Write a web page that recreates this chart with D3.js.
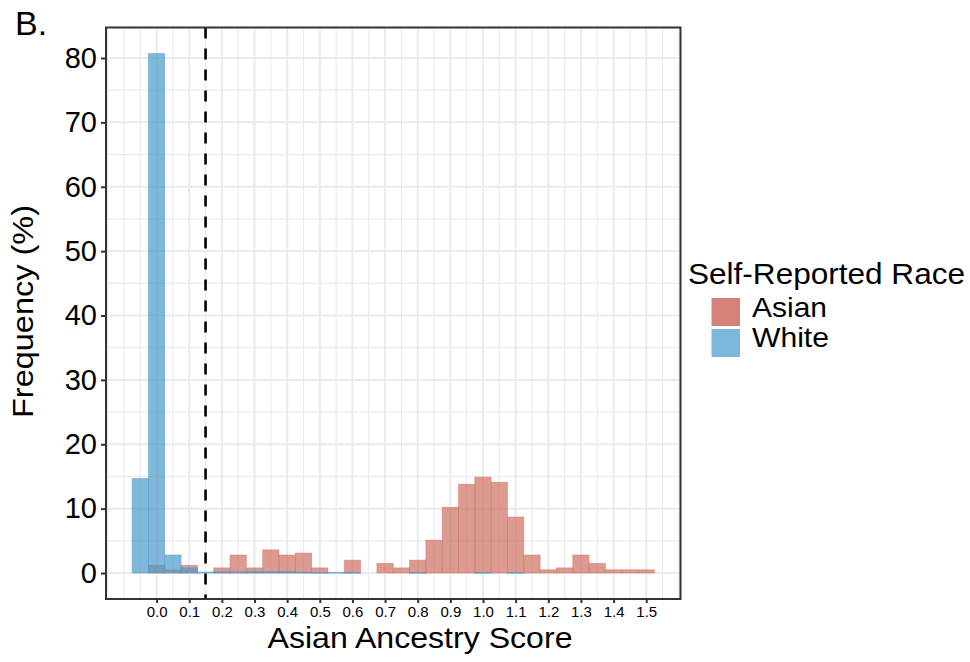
<!DOCTYPE html>
<html>
<head>
<meta charset="utf-8">
<script src="https://cdn.jsdelivr.net/npm/d3@7"></script>
<style>
  html, body { margin: 0; padding: 0; background: #fff; }
  svg text { font-family: "Liberation Sans", Arial, Helvetica, sans-serif; fill: #000; }
</style>
</head>
<body>
<svg id="chart" width="970" height="662"></svg>
<script>
// Histogram bins (width 0.05), identified by their centres
const binCenters = [-0.05, 0.00, 0.05, 0.10, 0.15, 0.20, 0.25, 0.30, 0.35, 0.40,
                    0.45, 0.50, 0.55, 0.60, 0.65, 0.70, 0.75, 0.80, 0.85, 0.90,
                    0.95, 1.00, 1.05, 1.10, 1.15, 1.20, 1.25, 1.30, 1.35, 1.40,
                    1.45, 1.50];
const binWidth = 0.05;

// Frequency (%) per bin for each self-reported group
const asianFreq = [0, 1.2, 0.5, 1.2, 0, 0.8, 2.8, 0.8, 3.6, 2.8,
                   3.1, 0.8, 0, 2.0, 0, 1.5, 0.8, 2.0, 5.1, 10.2,
                   13.8, 14.9, 14.1, 8.7, 2.8, 0.5, 0.8, 2.8, 1.5, 0.5,
                   0.5, 0.5];
const whiteFreq = [14.7, 80.7, 2.8, 0.8, 0.15, 0.2, 0.2, 0.25, 0.25, 0.25,
                   0.15, 0.1, 0.1, 0.1, 0, 0, 0, 0.1, 0, 0,
                   0, 0.1, 0, 0.1, 0, 0, 0, 0, 0, 0,
                   0, 0];

const groups = ["Asian", "White"];
const groupColors = ["#CF6F62", "#4A9ACB"];
const legendColors = ["#D5837A", "#7DB8DA"];

const xTicks = [0.0, 0.1, 0.2, 0.3, 0.4, 0.5, 0.6, 0.7, 0.8, 0.9, 1.0, 1.1, 1.2, 1.3, 1.4, 1.5];
const yTicks = [0, 10, 20, 30, 40, 50, 60, 70, 80];
const threshold = 0.15;

const panel = { left: 106, right: 680.5, top: 27.5, bottom: 599 };

const svg = d3.select("#chart");

// Scales with ggplot-style 5% expansion
const xMin = binCenters[0] - binWidth / 2, xMax = binCenters[binCenters.length - 1] + binWidth / 2;
const xPad = (xMax - xMin) * 0.05;
const x = d3.scaleLinear().domain([xMin - xPad, xMax + xPad]).range([panel.left, panel.right]);
const yMaxVal = d3.max(whiteFreq.concat(asianFreq));
const yPad = yMaxVal * 0.05;
const y = d3.scaleLinear().domain([-yPad, yMaxVal + yPad]).range([panel.bottom, panel.top]);

// Grid: minor lines every 0.05 / 5, major every 0.1 / 10
const grid = svg.append("g");
const xMinor = d3.range(-0.15, 1.6001, 0.05).map(v => +v.toFixed(2))
  .filter(v => v >= x.domain()[0] && v <= x.domain()[1]);
const yMinor = d3.range(-5, 90, 5).filter(v => v >= y.domain()[0] && v <= y.domain()[1]);
grid.selectAll(".xminor").data(xMinor).join("line")
  .attr("x1", d => x(d)).attr("x2", d => x(d))
  .attr("y1", panel.top).attr("y2", panel.bottom)
  .attr("stroke", "#EBEBEB").attr("stroke-width", 1.2);
grid.selectAll(".yminor").data(yMinor).join("line")
  .attr("y1", d => y(d)).attr("y2", d => y(d))
  .attr("x1", panel.left).attr("x2", panel.right)
  .attr("stroke", "#EBEBEB").attr("stroke-width", 1.2);
grid.selectAll(".xmajor").data(xTicks).join("line")
  .attr("x1", d => x(d)).attr("x2", d => x(d))
  .attr("y1", panel.top).attr("y2", panel.bottom)
  .attr("stroke", "#EBEBEB").attr("stroke-width", 2);
grid.selectAll(".ymajor").data(yTicks).join("line")
  .attr("y1", d => y(d)).attr("y2", d => y(d))
  .attr("x1", panel.left).attr("x2", panel.right)
  .attr("stroke", "#EBEBEB").attr("stroke-width", 2);

// Overlapping histogram bars: Asian first, White on top
const series = [asianFreq, whiteFreq];
series.forEach((vals, gi) => {
  svg.append("g").selectAll("rect")
    .data(binCenters.map((c, i) => ({ c, v: vals[i] })).filter(d => d.v > 0))
    .join("rect")
    .attr("x", d => x(d.c - binWidth / 2))
    .attr("width", d => x(d.c + binWidth / 2) - x(d.c - binWidth / 2))
    .attr("y", d => y(d.v))
    .attr("height", d => Math.max(0.8, y(0) - y(d.v)))
    .attr("fill", groupColors[gi]).attr("fill-opacity", 0.7)
    .attr("stroke", groupColors[gi]).attr("stroke-opacity", 0.55)
    .attr("stroke-width", 0.8);
});

// Threshold line
svg.append("line")
  .attr("x1", x(threshold)).attr("x2", x(threshold))
  .attr("y1", panel.top).attr("y2", panel.bottom)
  .attr("stroke", "#000").attr("stroke-width", 2.6)
  .attr("stroke-dasharray", "11,10");

// Panel border
svg.append("rect")
  .attr("x", panel.left).attr("y", panel.top)
  .attr("width", panel.right - panel.left).attr("height", panel.bottom - panel.top)
  .attr("fill", "none").attr("stroke", "#333").attr("stroke-width", 2);

// Axes
const xAxis = svg.append("g").attr("transform", `translate(0,${panel.bottom})`)
  .call(d3.axisBottom(x).tickValues(xTicks).tickFormat(d3.format(".1f")).tickSize(4).tickPadding(3));
xAxis.select(".domain").remove();
xAxis.selectAll(".tick line").attr("stroke", "#333").attr("stroke-width", 2);
xAxis.selectAll(".tick text").attr("font-size", 15).attr("fill", "#000");

const yAxis = svg.append("g").attr("transform", `translate(${panel.left},0)`)
  .call(d3.axisLeft(y).tickValues(yTicks).tickSize(5).tickPadding(4));
yAxis.select(".domain").remove();
yAxis.selectAll(".tick line").attr("stroke", "#333").attr("stroke-width", 2);
yAxis.selectAll(".tick text").attr("font-size", 29).attr("fill", "#000");

// Axis titles
svg.append("text").attr("x", 420).attr("y", 648).attr("text-anchor", "middle")
  .attr("font-size", 29.5).attr("textLength", 305).attr("lengthAdjust", "spacingAndGlyphs")
  .text("Asian Ancestry Score");
svg.append("text").attr("transform", "translate(33,311.5) rotate(-90)")
  .attr("text-anchor", "middle").attr("font-size", 29.5)
  .attr("textLength", 213).attr("lengthAdjust", "spacingAndGlyphs")
  .text("Frequency (%)");

// Panel tag
svg.append("text").attr("x", 15).attr("y", 35).attr("font-size", 34).text("B.");

// Legend
const legend = svg.append("g");
legend.append("text").attr("x", 688).attr("y", 284).attr("font-size", 29.5)
  .attr("textLength", 277).attr("lengthAdjust", "spacingAndGlyphs")
  .text("Self-Reported Race");
const labelWidths = [75, 77];
groups.forEach((g, i) => {
  legend.append("rect")
    .attr("x", 711.5).attr("y", 298 + i * 31).attr("width", 28.5).attr("height", 28)
    .attr("fill", legendColors[i]);
  legend.append("text").attr("x", 752).attr("y", 316.5 + i * 30)
    .attr("font-size", 28.5).attr("textLength", labelWidths[i]).attr("lengthAdjust", "spacingAndGlyphs")
    .text(g);
});
</script>
</body>
</html>
